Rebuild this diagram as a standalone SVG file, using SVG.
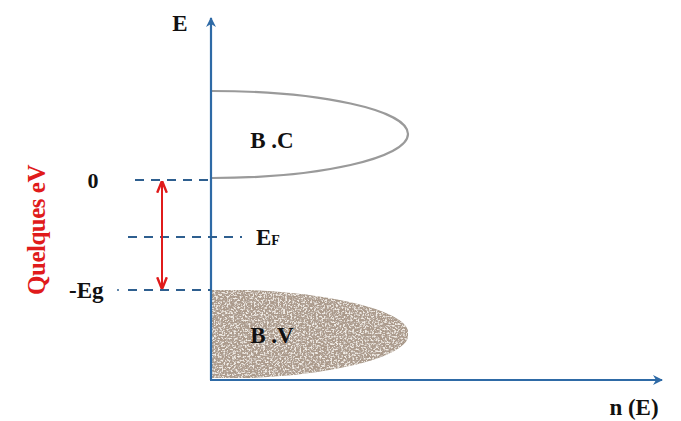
<svg xmlns="http://www.w3.org/2000/svg" width="681" height="421" viewBox="0 0 681 421">
<style>
.axis{stroke:#2e6aa6;stroke-width:2.2;fill:none}
.dash{stroke:#2e5f8f;stroke-width:2.2;stroke-dasharray:9,7;fill:none}
.lbl{font-family:"Liberation Serif",serif;font-weight:bold;fill:#111}
</style>
<defs>
<marker id="ah" viewBox="0 0 10 10" refX="9" refY="5" markerWidth="10" markerHeight="10" orient="auto-start-reverse" markerUnits="userSpaceOnUse">
<path d="M0,0 L10,5 L0,10 L3,5 z" fill="#2e6aa6"/>
</marker>
<marker id="rh" viewBox="0 0 10 10" refX="9" refY="5" markerWidth="12" markerHeight="12" orient="auto-start-reverse" markerUnits="userSpaceOnUse">
<path d="M0,1 L10,5 L0,9" fill="none" stroke="#e01b1b" stroke-width="2"/>
</marker>
<filter id="grain" x="0" y="0" width="1" height="1">
<feTurbulence type="fractalNoise" baseFrequency="0.55" numOctaves="2" seed="3" result="n"/>
<feColorMatrix in="n" type="matrix" values="0 0 0 0 0.45  0 0 0 0 0.38  0 0 0 0 0.33  5 0 0 0 -2.5" result="d"/>
<feComposite in="d" in2="SourceGraphic" operator="in" result="c"/>
<feTurbulence type="fractalNoise" baseFrequency="0.55" numOctaves="2" seed="11" result="n2"/>
<feColorMatrix in="n2" type="matrix" values="0 0 0 0 0.87  0 0 0 0 0.83  0 0 0 0 0.78  5 0 0 0 -2.4" result="l"/>
<feComposite in="l" in2="SourceGraphic" operator="in" result="c2"/>
<feMerge><feMergeNode in="SourceGraphic"/><feMergeNode in="c"/><feMergeNode in="c2"/></feMerge>
</filter>
</defs>
<rect width="681" height="421" fill="#ffffff"/>
<g id="bc">
<path d="M212,91 C320,91 408,110 408,134 C408,158 320,178 212,178" fill="#fff" stroke="#9a9a9a" stroke-width="2.2"/>
<text class="lbl" x="272" y="148" font-size="23" text-anchor="middle">B .C</text>
</g>
<g id="bv">
<path d="M212,290 C320,290 408,310 408,334 C408,358 320,378 212,378 Z" fill="#ab9a8b" stroke="#a89888" stroke-width="1.5" filter="url(#grain)"/>
<text class="lbl" x="272" y="343" font-size="23" text-anchor="middle">B .V</text>
</g>
<g id="connectors">
<line class="axis" x1="211" y1="380" x2="211" y2="18" marker-end="url(#ah)"/>
<line class="axis" x1="210" y1="380" x2="662" y2="380" marker-end="url(#ah)"/>
<line class="dash" x1="135" y1="180" x2="211" y2="180"/>
<line class="dash" x1="128" y1="237" x2="242" y2="237"/>
<line class="dash" x1="128" y1="290" x2="211" y2="290"/>
<line x1="162" y1="182" x2="162" y2="288" stroke="#e01b1b" stroke-width="2" marker-start="url(#rh)" marker-end="url(#rh)"/>
</g>
<g id="labels">
<text class="lbl" x="180" y="31" font-size="23" text-anchor="middle">E</text>
<text class="lbl" x="634" y="415" font-size="23" text-anchor="middle">n (E)</text>
<text class="lbl" x="93" y="188" font-size="22" text-anchor="middle">0</text>
<text class="lbl" x="256" y="245" font-size="23">E<tspan font-size="14">F</tspan></text>
<text class="lbl" x="69" y="298" font-size="23">-Eg</text>
<circle cx="118" cy="290" r="1" fill="#2e5f8f"/>
<text x="45" y="230" font-size="25" font-weight="bold" font-family="Liberation Serif,serif" fill="#e01b1b" text-anchor="middle" transform="rotate(-90 45 230)" letter-spacing="-0.5">Quelques eV</text>
</g>
</svg>
